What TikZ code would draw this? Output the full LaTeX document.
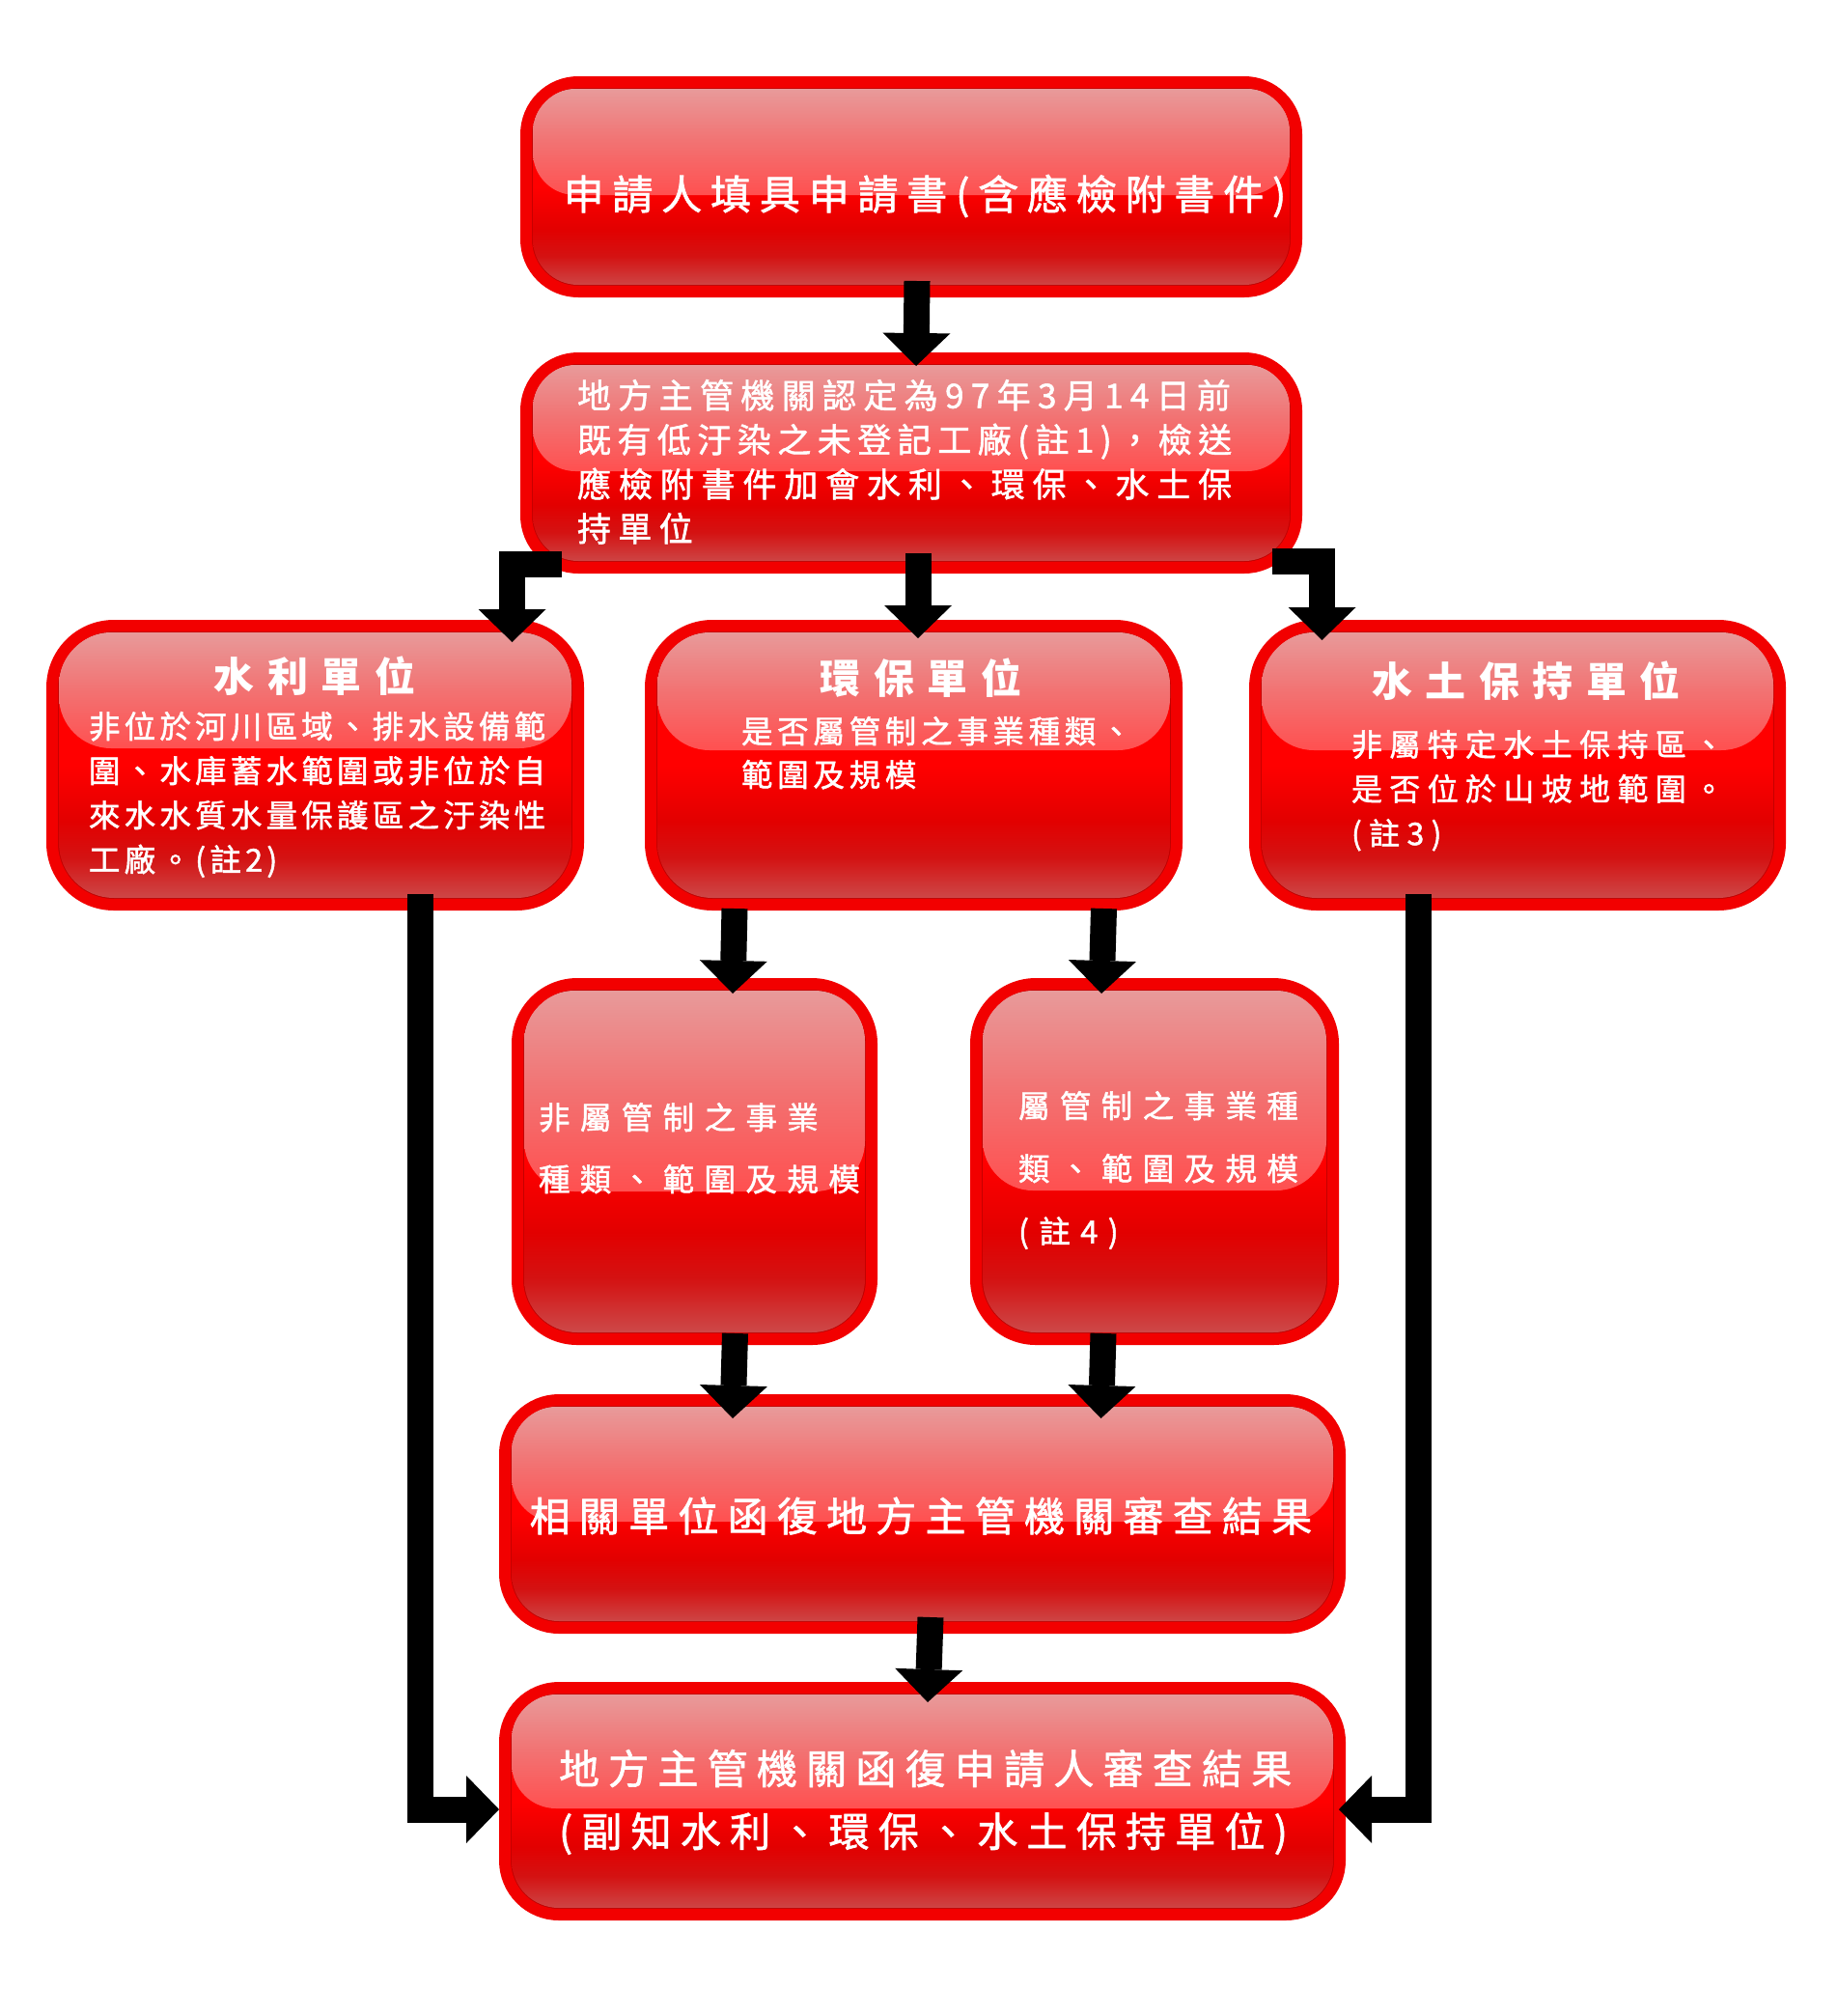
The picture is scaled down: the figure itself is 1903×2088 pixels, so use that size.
\documentclass[tikz,border=0pt]{standalone}
\usepackage{fontspec}
\newfontfamily\cjk{Noto Sans CJK TC}
\usetikzlibrary{arrows.meta,calc}
\definecolor{ringbright}{HTML}{F20000}
\definecolor{ringdark}{HTML}{C00000}
\definecolor{bodyA}{HTML}{FF0000}
\definecolor{bodyB}{HTML}{E20000}
\definecolor{bodyC}{HTML}{D41212}
\definecolor{bodyD}{HTML}{CC5050}
\definecolor{hlT}{HTML}{E89A9A}
\definecolor{hlM}{HTML}{F27272}
\definecolor{hlB}{HTML}{FF5050}
\pgfdeclareverticalshading{bodyshade}{100bp}{color(0bp)=(bodyD); color(25bp)=(bodyD); color(33.5bp)=(bodyC); color(40bp)=(bodyB); color(50bp)=(bodyA); color(75bp)=(bodyA); color(100bp)=(bodyA)}
\pgfdeclareverticalshading{hlshade}{100bp}{color(0bp)=(hlB); color(25bp)=(hlB); color(50bp)=(hlM); color(75bp)=(hlT); color(100bp)=(hlT)}
\newcommand\cfont[3]{\cjk\fontsize{#1}{#2}\selectfont\addfontfeature{LetterSpace=#3,FakeBold=1.5}}
\newcommand\cbfont[3]{\cjk\bfseries\fontsize{#1}{#2}\selectfont\addfontfeature{LetterSpace=#3}}
\tikzset{
  boxr/.store in=\boxr, boxr=60,
  boxh/.store in=\boxh, boxh=120,
  gbox/.style={draw=ringbright, fill=ringdark, line width=12pt, inner sep=0pt,
    rounded corners=\boxr-6,
    path picture={
      \shade[shading=bodyshade, rounded corners=\boxr-13]
        ($(path picture bounding box.north west)+(7,7)$) rectangle
        ($(path picture bounding box.south east)+(-7,-7)$);
      \shade[shading=hlshade, rounded corners=\boxr-16]
        ($(path picture bounding box.north west)+(7,7)$) rectangle
        ($(path picture bounding box.north east)+(-7,\boxh-6)$);
    }},
  txt/.style={text=white, inner sep=0pt, outer sep=0pt},
  arr/.style={draw=black, line width=27pt, line join=miter,
    -{Triangle[width=70pt,length=34pt,line width=0pt]}},
}
\begin{document}
\begin{tikzpicture}[x=1pt,y=-1pt]
\fill[white] (0,0) rectangle (1903,2088);
\useasboundingbox (0,0) rectangle (1903,2088);

% boxes
\node[boxr=60, boxh=123, gbox, minimum width=798, minimum height=217] (b1) at (944,193.5) {};
\node[boxr=60, boxh=123, gbox, minimum width=798, minimum height=217] (b2) at (944,479.5) {};
\node[boxr=70, boxh=133, gbox, minimum width=545, minimum height=289] (n3) at (326.5,792.5) {};
\node[boxr=70, boxh=135, gbox, minimum width=545, minimum height=289] (n4) at (946.5,792.5) {};
\node[boxr=70, boxh=135, gbox, minimum width=544, minimum height=289] (n5) at (1572,792.5) {};
\node[boxr=68, boxh=221, gbox, minimum width=367, minimum height=368] (n6) at (719.5,1203) {};
\node[boxr=68, boxh=220, gbox, minimum width=370, minimum height=368] (n7) at (1196,1203) {};
\node[boxr=62, boxh=132, gbox, minimum width=865, minimum height=236] (n8) at (955.5,1568) {};
\node[boxr=62, boxh=131, gbox, minimum width=865, minimum height=235] (n9) at (955.5,1865.5) {};

% texts
\node[txt, font={\cfont{42}{50}{21}}] (t1) at (958,203) {申請人填具申請書(含應檢附書件)};
\node[txt, anchor=north west, align=left, font={\cfont{35}{46}{21}}] (t2) at (598,393)
  {地方主管機關認定為97年3月14日前\\{\addfontfeature{LetterSpace=18.5}既有低汙染之未登記工廠(註1)，檢送}\\{\addfontfeature{LetterSpace=22.5}應檢附書件加會水利、環保、水土保}\\持單位};
\node[txt, font={\cbfont{42}{50}{32}}] (t3a) at (326,700) {水利單位};
\node[txt, anchor=north west, align=left, font={\cfont{32.5}{46}{13}}] (t3b) at (92,737)
  {非位於河川區域、排水設備範\\圍、水庫蓄水範圍或非位於自\\來水水質水量保護區之汙染性\\工廠。(註2)};
\node[txt, font={\cbfont{42}{50}{32}}] (t4a) at (954,702) {環保單位};
\node[txt, anchor=north west, align=left, font={\cfont{32.5}{45}{14.5}}] (t4b) at (768,742)
  {是否屬管制之事業種類、\\範圍及規模};
\node[txt, font={\cbfont{42}{50}{32}}] (t5a) at (1581,705) {水土保持單位};
\node[txt, anchor=north west, align=left, font={\cfont{32}{46}{23}}] (t5b) at (1400,756)
  {非屬特定水土保持區、\\是否位於山坡地範圍。\\(註3)};
\node[txt, anchor=north west, align=left, font={\cfont{32.5}{64}{32}}] (t6) at (558,1142)
  {非屬管制之事業\\種類、範圍及規模};
\node[txt, anchor=north west, align=left, font={\cfont{32.5}{65}{32}}] (t7) at (1055,1130)
  {屬管制之事業種\\類、範圍及規模\\(註4)};
\node[txt, font={\cfont{42}{50}{22}}] (t8) at (954,1570) {相關單位函復地方主管機關審查結果};
\node[txt, anchor=north west, align=left, font={\cfont{42}{65}{22}}] (t9) at (579,1812)
  {地方主管機關函復申請人審查結果\\(副知水利、環保、水土保持單位)};

% connectors
\draw[arr] ($(b1.south)+(6,-17)$) -- ($(b2.north)+(5,14)$);
\draw[arr] ($(b2.south west)+(43,-9.5)$) -| ($(n3.north east)+(-74.5,23)$);
\draw[arr] ($(b2.south)+(7,-21)$) -- ($(n4.north)+(4.5,19)$);
\draw[arr] ($(b2.south east)+(-31,-12.5)$) -| ($(n5.north west)+(75.5,21)$);
\draw[arr] ($(n4.south west)+(93,-2)$) -- ($(n6.north)+(39.5,16)$);
\draw[arr] ($(n4.south east)+(-81.5,-2)$) -- ($(n7.north)+(-55,16)$);
\draw[arr] ($(n6.south)+(42,-12)$) -- ($(n8.north west)+(242,25)$);
\draw[arr] ($(n7.south)+(-53,-12)$) -- ($(n8.north east)+(-253.5,25)$);
\draw[arr] ($(n8.south)+(8.5,-17)$) -- ($(n9.north)+(5.5,21)$);
\draw[arr] ($(n3.south west)+(387,-17)$) |- ($(n9.west)+(0,8.5)$);
\draw[arr] ($(n5.south west)+(175,-17)$) |- ($(n9.east)+(-7,8.5)$);
\end{tikzpicture}
\end{document}
